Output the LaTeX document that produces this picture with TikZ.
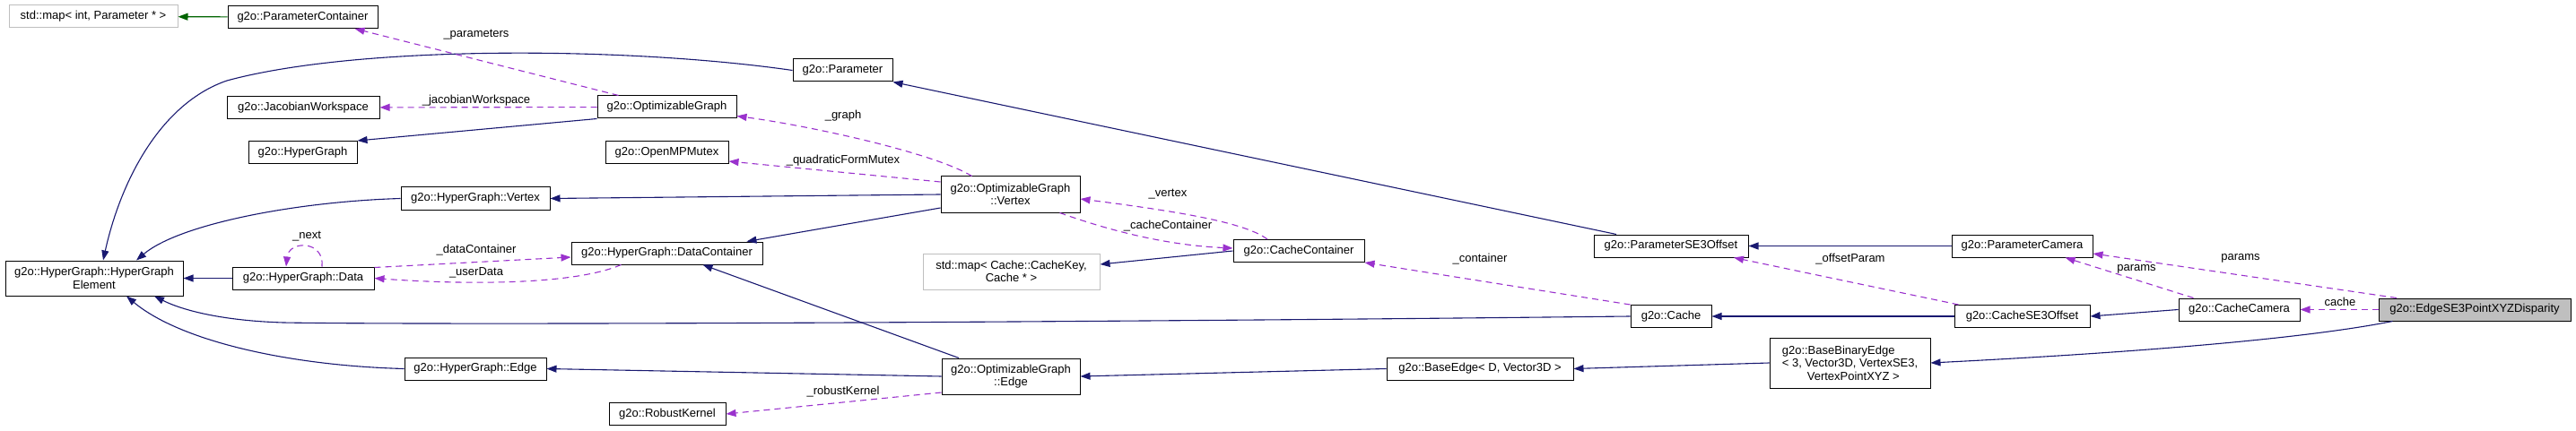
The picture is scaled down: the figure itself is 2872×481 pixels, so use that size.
\documentclass[tikz,border=0pt]{standalone}
\usepackage{fontspec}
\setmainfont{Liberation Sans}
\usepackage{tikz}
\usetikzlibrary{positioning,arrows.meta}
\definecolor{inhblue}{HTML}{191970}
\definecolor{usepurple}{HTML}{9A32CD}
\definecolor{tmplgreen}{HTML}{006400}
\definecolor{extgray}{HTML}{BFBFBF}

\begin{document}
\begin{tikzpicture}[
  x=1pt, y=-1pt,
  font=\fontsize{13}{14.5}\selectfont,
  cls/.style={draw, line width=1pt, align=center, inner sep=2pt, minimum height=25pt, fill=white},
  extcls/.style={cls, draw=extgray},
  focus/.style={cls, fill=extgray},
  inh/.style={draw=inhblue, line width=1.1pt, -{Triangle[length=11pt,width=8pt]}},
  uses/.style={draw=usepurple, line width=1.1pt, dash pattern=on 7pt off 5pt, -{Triangle[length=11pt,width=8pt]}},
  tmpl/.style={draw=tmplgreen, line width=1.1pt, -{Triangle[length=11pt,width=8pt]}},
  lbl/.style={inner sep=1pt}
]
\useasboundingbox (0,0) rectangle (2872,481);

\node[extcls, minimum width=188pt] (mapparam) at (104,18.5) {std::map< int, Parameter * >};
\node[cls, minimum width=167pt] (paramcont) at (337.5,19) {g2o::ParameterContainer};
\node[cls, minimum width=111pt] (param) at (939.5,78.5) {g2o::Parameter};
\node[cls, minimum width=170pt] (jacws) at (338,120) {g2o::JacobianWorkspace};
\node[cls, minimum width=155pt] (optgraph) at (743.5,119.5) {g2o::OptimizableGraph};
\node[cls, minimum width=121pt] (hgraph) at (337.5,170) {g2o::HyperGraph};
\node[cls, minimum width=137pt] (mutex) at (743.5,170.5) {g2o::OpenMPMutex};
\node[cls, minimum width=166pt] (hgvertex) at (530,221.5) {g2o::HyperGraph::Vertex};
\node[cls, minimum width=155pt, minimum height=40pt] (ogvertex) at (1126.5,217) {g2o::OptimizableGraph\\::Vertex};
\node[cls, minimum width=198pt, minimum height=39pt] (element) at (105,310.5) {g2o::HyperGraph::HyperGraph\\Element};
\node[cls, minimum width=158pt] (hgdata) at (338,310.5) {g2o::HyperGraph::Data};
\node[cls, minimum width=213pt] (datacont) at (743.5,282.5) {g2o::HyperGraph::DataContainer};
\node[cls, minimum width=146pt] (cachecont) at (1448,280) {g2o::CacheContainer};
\node[extcls, minimum width=197pt, minimum height=40pt] (mapcache) at (1127.5,303) {std::map< Cache::CacheKey,\\Cache * >};
\node[cls, minimum width=172pt] (pse3) at (1863,274.5) {g2o::ParameterSE3Offset};
\node[cls, minimum width=157pt] (pcam) at (2254.5,274.5) {g2o::ParameterCamera};
\node[cls, minimum width=90pt] (cache) at (1863,353) {g2o::Cache};
\node[cls, minimum width=151pt] (cse3) at (2254.5,353) {g2o::CacheSE3Offset};
\node[cls, minimum width=135pt] (ccam) at (2496.5,345.5) {g2o::CacheCamera};
\node[focus, minimum width=214pt] (dispedge) at (2759,345.5) {g2o::EdgeSE3PointXYZDisparity};
\node[cls, minimum width=179pt, minimum height=56pt, align=left] (bbedge) at (2062.5,405)
  {g2o::BaseBinaryEdge\\< 3, Vector3D, VertexSE3,\\\hspace*{28pt}VertexPointXYZ >};
\node[cls, minimum width=208pt] (baseedge) at (1650,411.5) {g2o::BaseEdge< D, Vector3D >};
\node[cls, minimum width=154pt, minimum height=40pt] (ogedge) at (1127,420) {g2o::OptimizableGraph\\::Edge};
\node[cls, minimum width=158pt] (hgedge) at (530,411.5) {g2o::HyperGraph::Edge};
\node[cls, minimum width=130pt] (robust) at (744,462) {g2o::RobustKernel};

% edge labels
\node[lbl] (lparameters) at (531,39) {\_parameters};
\node[lbl] (ljacws) at (531,112) {\_jacobianWorkspace};
\node[lbl] (lgraph) at (940,129) {\_graph};
\node[lbl] (lmutex) at (940,179) {\_quadraticFormMutex};
\node[lbl] (lvertex) at (1302,217) {\_vertex};
\node[lbl] (lcachecont) at (1302,252) {\_cacheContainer};
\node[lbl] (lnext) at (342,264) {\_next};
\node[lbl] (ldatacont) at (531,279) {\_dataContainer};
\node[lbl] (luserdata) at (531,304) {\_userData};
\node[lbl] (lrobust) at (940,437) {\_robustKernel};
\node[lbl] (lcontainer) at (1650,289) {\_container};
\node[lbl] (loffset) at (2063,289) {\_offsetParam};
\node[lbl] (lparams) at (2382,300) {params};
\node[lbl] (lparamsb) at (2498,288) {params};
\node[lbl] (lcache) at (2609,337) {cache};

% inheritance
\draw[tmpl] (paramcont) -- (mapparam);
\draw[inh] (optgraph.south west) -- (hgraph.north east);
\draw[inh] (param.west) .. controls (700,52) and (400,50) .. (253,90) .. controls (180,115) and (135,200) .. ([xshift=10pt]element.north);
\draw[inh] (hgvertex.west) .. controls (330,225) and (200,250) .. ([xshift=47pt]element.north);
\draw[inh] (hgdata) -- (element);
\draw[inh] (cache.west) .. controls (1000,362) and (420,362) .. (316,360) .. controls (250,358) and (205,347) .. ([xshift=67pt]element.south);
\draw[inh] (hgedge.west) .. controls (320,408) and (200,380) .. ([xshift=36pt]element.south);
\draw[inh] (ogvertex.west) -- (hgvertex.east);
\draw[inh] ([yshift=-15pt]ogvertex.west) -- ([xshift=-18pt]datacont.north east);
\draw[inh] ([xshift=-58pt]ogedge.north) -- ([xshift=40pt]datacont.south);
\draw[inh] (ogedge.west) -- (hgedge.east);
\draw[inh] (baseedge.west) -- (ogedge.east);
\draw[inh] (bbedge.west) -- (baseedge.east);
\draw[inh] ([xshift=16pt]dispedge.south west) .. controls (2560,380) and (2350,395) .. (bbedge.east);
\draw[inh] ([xshift=-61pt]pse3.north) -- (param.south east);
\draw[inh] (pcam) -- (pse3);
\draw[inh] (cachecont.west) -- ([yshift=8pt]mapcache.east);
\draw[inh] (cse3) -- (cache);
\draw[inh] (ccam.west) -- (cse3.east);

% usage
\draw[uses] ([xshift=-54pt]optgraph.north) -- ([xshift=58pt]paramcont.south);
\draw[uses] (optgraph) -- (jacws);
\draw[uses] ([xshift=-43pt]ogvertex.north) .. controls (1040,170) and (900,140) .. ([yshift=-10pt]optgraph.east);
\draw[uses] ([yshift=14pt]ogvertex.west) -- ([yshift=-9.5pt]mutex.east);
\draw[uses] ([xshift=-35pt]cachecont.north) .. controls (1390,250) and (1330,238) .. ([yshift=-5pt]ogvertex.east);
\draw[uses] ([xshift=55pt]ogvertex.south) .. controls (1250,262) and (1310,274) .. ([yshift=3pt]cachecont.west);
\draw[uses] ([xshift=21pt]hgdata.north) .. controls (362,268) and (322,268) .. ([xshift=-19pt]hgdata.north);
\draw[uses] ([yshift=12pt]hgdata.east) -- ([yshift=-4.5pt]datacont.west);
\draw[uses] ([xshift=-51pt]datacont.south) .. controls (640,318) and (520,318) .. (hgdata.east);
\draw[uses] ([yshift=-18pt]ogedge.west) -- (robust.east);
\draw[uses] (cache.north west) -- (cachecont.south east);
\draw[uses] ([xshift=-71pt]cse3.north) -- ([xshift=70pt]pse3.south);
\draw[uses] ([xshift=-51pt]ccam.north) -- ([xshift=48pt]pcam.south);
\draw[uses] ([xshift=-87pt]dispedge.north) -- ([yshift=-8.5pt]pcam.east);
\draw[uses] (dispedge) -- (ccam);
\end{tikzpicture}
\end{document}
